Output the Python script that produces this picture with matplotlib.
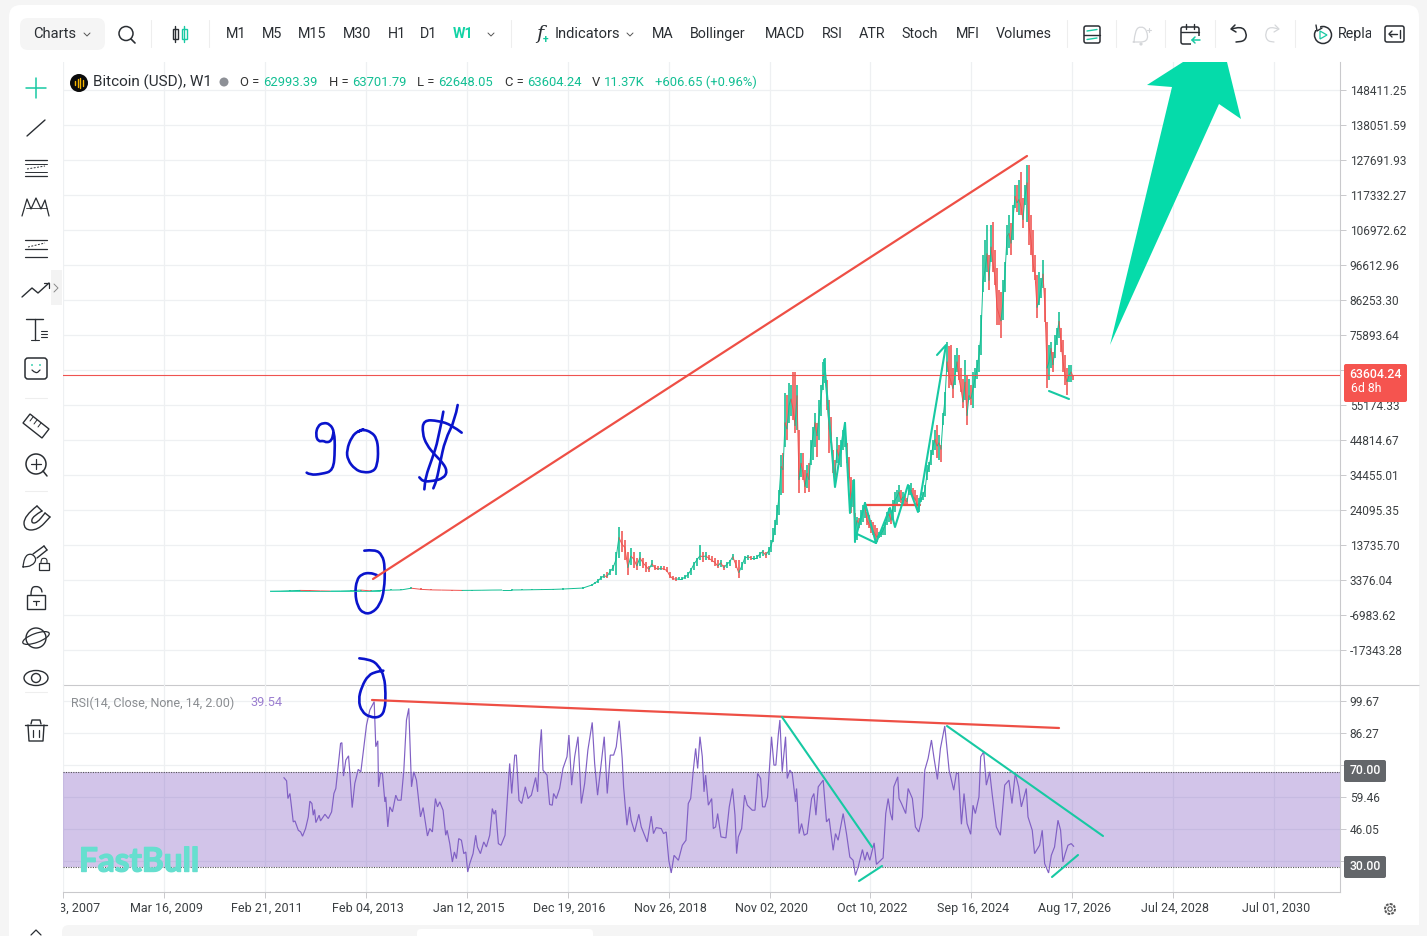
import numpy as np
import matplotlib
matplotlib.use("Agg")
import matplotlib.pyplot as plt
import matplotlib.patheffects as pe
from matplotlib.path import Path
from matplotlib.patches import PathPatch, Polygon, FancyBboxPatch, Rectangle, Circle, Ellipse
from matplotlib.collections import LineCollection
from matplotlib.transforms import ScaledTranslation

plt.rcParams['font.family'] = ['Roboto', 'DejaVu Sans']

# ---------- data (prices in thousands of USD) ----------
early_close = [0.06,0.1,0.2,0.3,0.25,0.15,0.1,0.12,0.2,0.4,0.15,0.3,0.4,0.45,0.95,0.6,0.45,0.4,0.35,0.3,0.32,0.35,0.4,0.42,0.42,0.45,0.5,0.55,0.6,0.7,0.85,1.0]
early_high  = [0.1,0.15,0.3,0.4,0.3,0.2,0.15,0.2,0.3,0.5,0.3,0.5,0.6,0.8,1.2,0.9,0.6,0.5,0.45,0.4,0.42,0.45,0.5,0.55,0.6,0.65,0.7,0.75,0.8,0.9,1.1,1.4]
early_low   = [0.03,0.05,0.1,0.2,0.15,0.1,0.08,0.1,0.15,0.2,0.1,0.2,0.3,0.35,0.7,0.5,0.35,0.3,0.25,0.22,0.25,0.28,0.3,0.32,0.35,0.35,0.4,0.45,0.45,0.55,0.7,0.8]

mid_close = [1.9,2.5,3.1,4.0,4.6,4.4,5.8,6.9,9.3,16,14,13,7,10.5,9.5,7.5,10,8.5,7.5,6.5,8.2,7,6.6,6.8,6.6,6.2,4.6,3.8,3.6,3.7,3.7,4.2,4.9,6.3,8,9.3,10.5,10.3,10.5,9.8,9.2,8.6,7.5,8.5,7,8,8.8,10.3,8,5.5,7.5,9.9,10.2,10,10,10,11,11.8,10.7,12]
mid_high  = [2.2,2.9,3.6,4.5,5.2,5.8,6.5,7.8,11.7,19,18,15.2,11.7,12.9,11.7,9.9,11.7,9.9,8.7,7.5,9.3,7.8,7.5,7.5,7.5,7.2,5.8,4.6,4.3,4.3,4.3,4.9,5.8,6.9,8.7,9.9,13.7,11.7,11.7,10.8,10.5,9.9,9.3,9.3,7.8,8.7,9.3,11,9.3,9.3,8.7,10.5,10.8,10.5,10.5,10.8,11.7,12.3,11.7,13]
mid_low   = [1.6,2.1,2.6,3.4,4.0,3.9,4.8,6.0,4.9,10,11.7,9.3,4.9,7.8,6.9,6.3,7.5,6.9,5.8,5.8,7.2,6.3,6.3,6.4,6.3,5.8,4.0,3.4,3.1,3.4,3.4,3.7,4.0,4.9,6.3,7.5,9.3,8.7,9.3,9.3,8.7,7.5,6.9,7.2,6.3,6.9,7.5,9.3,6.9,3.9,6.3,8.1,9.3,9.3,9.3,9.6,9.9,10.5,9.9,10.8]

late_close = [13.5,15.5,19,23,28,37,36,50,48,55,57,54,49,58,33,38,35,31,35,33,42,46,50,46,52,57,63,66,58,48,47,38,34,42,40,41,45,48,41,36,27,30,18,21,20,22,24,25,21,20,18.5,18,17,16,17,17,18,19.5,22,23,21,25,27,28,29.5,27,28,27,26.5,30,30,28,27.5,25.5,26,27,28.5,30,35,37,40,43,45,43,44,42,51,57,68,64,62,60,64,68,63,60,56,62,52,58,57,60,63,66,70,76,92,95,100,92,102,97,93,84,82,80,86,94,105,106,103,110,117,115,116,114,110,117,121,108,104,97,94,84,86,90,94,84,66,68,72,67,72,76,80,74,68,64,62,64,65,63.6]
late_high  = [15.2,18.8,21,25.6,30,40.4,41,58.7,58,61.7,61,65,65,61,47.8,41,41,35.9,37.4,38,44.8,48.7,52.8,49.8,56.7,61,67.9,69,62.6,56.7,51.6,41.9,38.9,45.7,43.3,44.8,47.8,50,43.9,39.8,33.9,33,23.2,22,21.7,24,25.6,26.5,23.5,22.6,21,20.5,19.7,18.8,17.6,18.2,19,20.5,23.5,24.7,24,27,29.4,30,31.5,30,29.4,28.6,27.6,31.5,32,30.6,30,28.6,27.6,28,29.4,31.5,37.4,38.3,41.9,44.8,47.8,49.3,46.3,43.3,52.8,59,73.8,72.5,73,66,70,72,70,66,63,68.5,64,63,61,65,66,68.5,73,81.8,99.6,104,108.5,99.6,108.5,109.3,101,95.7,89.2,88.6,92.2,97.5,108.5,111.4,109,114.4,120.3,120.3,121.8,124.2,116.5,120.3,126.2,126.2,111.4,107,99.6,93.7,94.6,92.8,98.1,89.8,79.7,73,73.8,70.9,75.9,78,82.7,77.9,74.4,70,66,67,67,63.7]
late_low   = [11.7,14.6,16.7,19.7,22.6,28.5,29,42.8,44.8,49.8,52,50.7,47,47.8,29,33.9,33,29,30.6,29.4,37.4,38.9,42.8,39.8,44.8,52,59.6,61.7,53.7,41,43.9,35,30.9,38,37.4,36.8,41.9,42.8,38,33.9,23.2,25,14.6,15.2,18.8,19.7,20.5,21.7,19.7,18.8,17.3,16.7,15.2,14.6,15.8,16,16.7,16.7,19.7,20.5,20,21,23.5,25.6,26.5,26.2,25.6,25.6,25.3,28.6,28.6,27.7,27,24,23.5,26.5,27,28,33,35.3,37.4,40.4,41.9,39.5,38.9,38.3,49.3,52,65,60.2,61,57.2,61,65,62.6,59,54.3,56.7,49.3,56.7,55.2,54.3,60.2,63,65,70,88.6,91.6,94.6,89.2,97.5,94.6,90.7,78.9,78.9,75,80.3,88.6,99.6,101.6,99.6,104,113.5,112.3,111.4,111.4,107.6,114.4,109.3,102.6,99.6,94.6,92.2,80.9,84.8,86.9,89.8,79.7,60.2,62.6,66.1,65,69,73,75,70.9,65,61,58,62,62,62.6]

last_price_line = 64000   # where the horizontal price line sits in the picture
last_price_text = '63604.24'

rsi_weeks = [18.8,21.4,22.7,24.7,26.4,28,29.7,33,35.3,37.2,40.2,42.9,44.5,46.5,47.8,49.1,50.4,53.7,55,59.4,62.7,66,68.3,70.2,72.6,74.9,76.2,77.8,80.1,82.8,84.1,86.4,89,92.4,95,98,100.6,103.9,108.2,109.8,111.8,112.5,114.5,116.4,118.8,119.7,121.7,123.7,126.3,129.6,131.6,134.9,137.6,140.2,142.5,145.2,147.5,150.1,154.1,156.7,161,163.3,165.9,168.9,170.9,173.2,176.5,179.1,180.5,183.1,185.7,187.7,189.7,192,194.7,197,199,200.9,202.9,206.2,208.8,210.5,213.5,216.8,219.4,222.7,225.3,227,228.6,231.3,233.9,237.9,240.5,242.5,244.5,247.5,249.1,251.7,254.4,258,260.7,264,268.2,270.2,272.2,273.9,275.5,279.5,282.1,284.7,286,288.7,292,295.3,299.3,301.2,303.9,306.9,310.2,313.5,316.8,320,324.3,326.7,329.6,332.3,336.2,339.2,342.2,345.5,348.1,351.1,354,355.4,358.7,361.3,362.9,366.3,370.5,372.9,378.8,382.8,385,387.7,392.7,395,397.6,400.2,402.6,405.4,409.7,413.6,417.2,419.5,421.9,424.5,426.8,428.8,431.1,433.4,435.1,436.7,439.4,442.7,444.3,446.6,448.6,451.9,456.8,460.1,463.4,465.8,467.4,469.1,472.4,475.3,478,482.9,485.6,488.2,491.2,493.1,495.5,498.1,499.7,502,504.4,506.3,508.7,510.3,512.6,515.9,517.6,520.2,522.5,525.8,526.8,529.4,531.8,534.4,537.4,541.7,544,546,548.3,553.2,556.5,559.1,563.1,565.4,568,573,576.3,579.6,582.9,585.2,587.9,592.1,594.5,596.8,599.4,603.7,606,612.6,615.2,617.6,619.9,621.8,623.2,627.1,628.4,630.8,635,637.4,641.6,644.6,647.9,651.5,653.9,657.2,660.5,663.1,666.4,669.4,673.7,678,682.6,685.2,687.2,690.2,692.8,695.8,699.4,701.7,704,707.6,709.3,712.3,714.9,718.2,720.8,724.8,728.8,733.1,737.3,740.3,743.6,746.9,749.6,754.5,756.2,760.4,762.7,767.7,770.3,772.7,776.6,779.3,782.5,785.9,788.5,790.8,793.1,795.8,799,801.4]
rsi_values = [67.5,66.2,58.8,60.9,54.6,49,49.4,45.5,44.8,43,46.2,51.1,57.7,56.7,51.8,54.2,48.7,51.8,49.4,52.2,50.4,53.2,60.9,63,72.8,81.9,82.2,68.2,74.9,76.7,69.3,55,65.1,71,70,80.5,89.6,95.9,99.4,80.5,83,63.7,69.6,69.3,57.4,59.5,46.9,55.3,53.2,60.2,58.1,58.1,70.7,91.7,96.6,63.7,70,66.5,51.1,55,43.1,46.2,44.8,58.8,55.3,57.4,53.9,43.4,45.5,39.9,32.2,36.4,33.6,42,41.3,35.7,36.4,28,31.5,35.7,43.4,38.5,35.7,40.6,38.5,43.4,54.6,52.2,53.9,39.9,39.2,43.4,60.9,73.5,60.9,77,77,58.1,56.7,63.7,58.8,60.2,67.6,61.6,79.1,87.8,70.7,68.6,56.3,56,60.9,58.8,63,71.4,76.3,85.4,64.4,76.3,84.7,56.7,65.1,79.1,90.7,73.5,60.2,70,84.7,60.9,77,77,80.5,91.4,75.6,63.7,47.6,55.3,49.7,44.8,52.2,46.9,40.6,51.4,44.1,46.6,46.2,44.1,44.8,32.9,27.6,35,32.9,39.2,41.3,56.7,58.8,70.7,79.8,71.4,84.7,76.3,61.6,68.6,56,58.8,46.2,46.9,52.5,42.7,42.3,55.3,63,51.8,35.7,42.7,46.2,60.2,56,53.9,53.9,69.3,67.2,55.3,55.3,59.5,70,84.7,72.8,72.8,85.4,91.7,70,84.7,67.2,70.7,69.3,57.4,63,44.1,48.3,43.4,44.1,58.8,60.9,51.8,63.7,66.5,49,50.4,37.1,44.1,41.3,52.5,44.1,34.3,32.9,26.6,30.1,37.4,32.9,36.4,32.9,40.2,31.2,33.9,52.5,58.8,52.5,49.7,63.7,67.9,58.8,56.7,52.5,63,58.8,46.9,44.8,51.1,70.7,75.6,83.3,75.6,66.8,79.8,89.2,70.7,62.3,69.3,69.3,48,60.9,48.3,43.8,56,52.5,59.5,76.3,78.4,64.4,70,60.2,46.9,43.4,64.4,66.5,56.7,69.3,63.7,55.3,63,51.1,45.5,35.7,39.2,45.5,31.5,27.6,35,38.5,49.7,45.5,32.2,35.7,39.2,39.9,38.8]
rsi_last = 39.54

price_ticks = [148411.25,138051.59,127691.93,117332.27,106972.62,96612.96,86253.30,75893.64,65533.98,55174.33,44814.67,34455.01,24095.35,13735.70,3376.04,-6983.62,-17343.28]
price_tick_labels = ['148411.25','138051.59','127691.93','117332.27','106972.62','96612.96','86253.30','75893.64','','55174.33','44814.67','34455.01','24095.35','13735.70','3376.04','-6983.62','-17343.28']
rsi_ticks = [99.67,86.27,72.86,59.46,46.05,32.65]
rsi_tick_labels = ['99.67','86.27','','59.46','46.05','']
date_weeks = [-200,-100,0,100,200,300,400,500,600,700,800,900,1000]
date_labels = ['','Mar 16, 2009','Feb 21, 2011','Feb 04, 2013','Jan 12, 2015','Dec 19, 2016','Nov 26, 2018','Nov 02, 2020','Oct 10, 2022','Sep 16, 2024','Aug 17, 2026','Jul 24, 2028','Jul 01, 2030']

toolbar_items = ['M1','M5','M15','M30','H1','D1','W1','MA','Bollinger','MACD','RSI','ATR','Stoch','MFI','Volumes']
ohlc_header = [('O =','#333'),('62993.39','g'),('H =','#333'),('63701.79','g'),('L =','#333'),('62648.05','g'),('C =','#333'),('63604.24','g'),('V','#333'),('11.37K','g'),('+606.65 (+0.96%)','g')]

# ---------- colours ----------
GREEN = '#12bf93'; RED = '#ef5350'; GRID = '#eef0f2'; TEAL = '#17c9a3'; LINE_RED = '#ee4f45'
INK = '#2a2e33'; BLUE = '#0a14cc'; PURPLE = '#8060c4'; AXIS = '#c9c9cc'; LABEL = '#3c4043'

W, H = 1427, 936
fig = plt.figure(figsize=(W/100, H/100), dpi=100, facecolor='#f5f5f5')

def box(x0, y0, x1, y1):
    return [x0/W, 1-y1/H, (x1-x0)/W, (y1-y0)/H]

# ---------- background ----------
bg = fig.add_axes([0,0,1,1], zorder=0); bg.set_xlim(0,W); bg.set_ylim(H,0); bg.axis('off')
bg.add_patch(FancyBboxPatch((9,5),1410,980,boxstyle='round,pad=0,rounding_size=12',fc='white',ec='none'))

# ---------- price axes ----------
px_per_unit = 35/10359.43
top_val = 148411.25 + 28/px_per_unit
bot_val = 148411.25 - 595/px_per_unit
ax_p = fig.add_axes(box(63,62,1340,685), zorder=1); ax_p.patch.set_alpha(0)
ax_r = fig.add_axes(box(63,685,1340,892), zorder=1); ax_r.patch.set_alpha(0)
wk = lambda x: (x-265)/1.009
for a in (ax_p, ax_r):
    a.set_xlim(wk(63), wk(1340))
    a.set_xticks(date_weeks)
    a.grid(True, color=GRID, lw=0.9); a.set_axisbelow(True)
    a.yaxis.tick_right()
    for s in ('left','top'):
        a.spines[s].set_visible(False)
    a.spines['right'].set_color(AXIS); a.spines['bottom'].set_color(AXIS)
    a.spines['right'].set_linewidth(0.8); a.spines['bottom'].set_linewidth(0.8)
ax_p.set_ylim(bot_val, top_val)
ax_p.set_yticks(price_ticks); ax_p.set_yticklabels(price_tick_labels)
ax_p.tick_params(axis='x', length=0, labelbottom=False)
ax_p.tick_params(axis='y', length=4, width=0.7, color=AXIS, labelsize=8.6, labelcolor=LABEL, pad=3)
ax_r.set_ylim(99.67-(892-701)/2.386, 99.67+(701-685)/2.386)
ax_r.set_yticks(rsi_ticks); ax_r.set_yticklabels(rsi_tick_labels)
ax_r.tick_params(axis='y', length=4, width=0.7, color=AXIS, labelsize=8.6, labelcolor=LABEL, pad=3)
ax_r.set_xticklabels(date_labels)
ax_r.tick_params(axis='x', length=4, width=0.7, color=AXIS, labelsize=9, labelcolor=LABEL, pad=3)
shift = ScaledTranslation(2/100, 0, fig.dpi_scale_trans)
for t in ax_r.get_xticklabels():
    t.set_transform(t.get_transform()+shift)

# ---------- candles ----------
closes = np.array(early_close+mid_close+late_close)*1000
highs = np.array(early_high+mid_high+late_high)*1000
lows = np.array(early_low+mid_low+late_low)*1000
weeks = np.concatenate([5+10*np.arange(len(early_close)), 324+2.97*np.arange(len(mid_close)), 501.5+1.982*np.arange(len(late_close))])
opens = np.r_[closes[0], closes[:-1]]
cols = [GREEN if c >= o else RED for o,c in zip(opens,closes)]
ax_p.add_collection(LineCollection([[(w,l),(w,h)] for w,l,h in zip(weeks,lows,highs)], colors=cols, linewidths=1.15, zorder=3))
ax_p.add_collection(LineCollection([[(weeks[i-1],opens[i]),(weeks[i],closes[i])] for i in range(1,len(weeks))], colors=cols[1:], linewidths=0.7, zorder=3))
ax_p.axhline(last_price_line, color=RED, lw=0.8, zorder=4)

# ---------- RSI ----------
ax_r.axhspan(30,70, facecolor=(126/255,87/255,194/255,0.35), edgecolor='none', zorder=2)
for lv in (30,70):
    ax_r.axhline(lv, color='#555', lw=0.8, ls=(0,(1,1.2)), zorder=3)
ax_r.plot(rsi_weeks, rsi_values, color=PURPLE, lw=0.85, zorder=4, solid_joinstyle='miter')

# ---------- overlay (drawings and application chrome) ----------
ov = fig.add_axes([0,0,1,1], zorder=3); ov.set_xlim(0,W); ov.set_ylim(H,0); ov.axis('off'); ov.patch.set_alpha(0)

def ln(pts, c=INK, lw=1.0, **k):
    a = np.array(pts, float)
    ov.plot(a[:,0], a[:,1], color=c, lw=lw, solid_capstyle=k.pop('cap','round'), solid_joinstyle='round', **k)
def txt(x,y,s,c=INK,fs=10,ha='center',**k):
    return ov.text(x,y,s,color=c,fontsize=fs,ha=ha,va='center',**k)
def smooth(pts, lw=1.9, c=BLUE):
    p = np.array(pts,float)
    verts=[p[0]]; codes=[Path.MOVETO]
    for i in range(1,len(p)-1):
        m=(p[i]+p[i+1])/2
        verts+= [p[i],m]; codes+=[Path.CURVE3,Path.CURVE3]
    verts.append(p[-1]); codes.append(Path.LINETO)
    ov.add_patch(PathPatch(Path(verts,codes),fc='none',ec=c,lw=lw,capstyle='round',joinstyle='round'))
def zoom11(pts):
    return [(295+x/3, 400+y/3) for x,y in pts]

# hand-drawn blue marks
smooth(zoom11([(35,218),(45,225),(80,222),(115,212),(120,150),(118,95),(105,72),(85,68),(68,78),(62,105),(70,125),(85,122),(95,128),(110,122),(115,100)]))
smooth(zoom11([(205,88),(190,92),(170,110),(155,150),(158,180),(180,208),(205,218),(235,215),(247,195),(250,150),(245,115),(230,97),(205,88),(190,95)]))
smooth(zoom11([(500,98),(470,75),(430,62),(385,60),(382,100),(395,135),(420,165),(445,190),(457,215),(445,235),(415,243),(385,245),(373,232)]))
smooth(zoom11([(445,35),(430,120),(410,180),(392,230),(388,268)]))
smooth(zoom11([(488,15),(480,60),(450,120),(435,190),(425,240),(415,265)]))
smooth(zoom11([(208,452),(240,448),(262,465),(270,500),(268,570),(255,615),(230,640),(205,640),(188,620),(180,580),(185,540),(200,522),(225,518),(245,525)]))
smooth(zoom11([(193,775),(225,778),(250,795),(268,830),(272,880),(270,930),(255,952),(225,952),(200,935),(190,900),(200,860),(220,825),(245,815),(265,812)]))

# trend lines
for seg in ([(373,579),(1027,156)], [(372,700),(1059,728)], [(866,505),(920,505)]):
    ln(seg, LINE_RED, 1.6)
for seg in ([(824,360),(835,487),(845,423),(850,513),(854,480),(855,542)],
            [(855,540),(865,503),(876,543),(855,533)],
            [(876,543),(890,508),(895,527),(908,485),(918,512),(946,345),(937,355)],
            [(782,717),(872,847)], [(859,881),(882,866)], [(947,726),(1103,836)], [(1052,877),(1078,855)],
            [(1049,391),(1069,399)]):
    ln(seg, TEAL, 1.5)
ln([(270,591),(380,591)], TEAL, 0.6)

# big arrow
ov.add_patch(Polygon([(1110,345),(1172,87),(1147,85),(1183,62),(1227,62),(1241,119),(1219,104)], closed=True, fc='#05dbaa', ec='none'))

# separator between panes, right of the plot
ln([(1340,685),(1419,685)], AXIS, 0.8, cap='butt')

# price tags
ov.add_patch(FancyBboxPatch((1344,364),63,38,boxstyle='round,pad=0,rounding_size=2',fc='#f5544f',ec='none'))
txt(1375.5,375,last_price_text,'white',8.8,fontweight='medium'); txt(1366,389,'6d 8h','white',8.8)
for y,s in ((771,'70.00'),(867,'30.00')):
    ov.add_patch(FancyBboxPatch((1344,y-11),42,22,boxstyle='round,pad=0,rounding_size=2',fc='#63666a',ec='none'))
    txt(1365,y,s,'white',8.8,fontweight='medium')
# clipped first date label
t = txt(52,908,'03, 2007',LABEL,9,ha='left')
t.set_clip_on(True); t.set_clip_path(Rectangle((61,898),60,20,transform=ov.transData))

# indicator legends
txt(71,703,'RSI(14, Close, None, 14, 2.00)','#8a8d91',9,ha='left')
txt(250,703,f'{rsi_last:.2f}','#9b7fd0',9.2,ha='left')
logo = txt(79,862,'FastBull','#66dfcf',24,ha='left',fontweight='bold',family='Lato')
logo.set_path_effects([pe.withStroke(linewidth=1.0, foreground='#66dfcf')])

# header
ov.add_patch(Circle((79,83),9,fc='#0b0b0b',ec='none'))
for dx,h in ((-4,2),(-1.5,4),(1,5),(3.5,3)):
    ln([(79+dx,83-h),(79+dx,83+h)],'#f5b400',1.0)
txt(93,82,'Bitcoin (USD), W1',INK,11,ha='left')
ov.add_patch(Circle((224,82),4.5,fc='#8d9096',ec='none'))
for (s,c),x in zip(ohlc_header,[240,263,329,352,417,438,505,527,592,604,655]):
    txt(x,82,s,GREEN if c=='g' else c,9.4,ha='left')

# top toolbar
ov.add_patch(FancyBboxPatch((20,18),85,32,boxstyle='round,pad=0,rounding_size=8',fc='#f5f5f5',ec='none'))
txt(55,34,'Charts',INK,10.6)
def chev(x,y,c='#555'):
    ln([(x-3,y-1.5),(x,y+1.5),(x+3,y-1.5)],c,0.7)
for x in (87,491,630): chev(x,34.5)
ov.add_patch(Circle((126,33.5),7,fc='none',ec=INK,lw=1.1)); ln([(131,39),(135,43)],INK,1.2)
for x in (151,209,511,1067,1116,1165,1215,1295):
    ln([(x,20),(x,47)],'#eeeeee',0.8)
for x,col in ((175,INK),(184,TEAL)):
    ov.add_patch(Rectangle((x-2.5,29),5,10,fc='none',ec=col,lw=1.0)); ln([(x,26),(x,42)],col,1.0)
for s,x in zip(toolbar_items,[236,272,312,357,397,429,463,663,718,785,832,872,920,968,1024]):
    if s=='W1':
        txt(x,34,s,'#12d3a5',10.3,fontweight='bold')
    else:
        txt(x,34,s,INK,10.3)
txt(540,34,'f',INK,14,fontstyle='italic',family='DejaVu Serif'); txt(546,40,'+','#12c79c',7.5,fontweight='bold')
txt(587,34,'Indicators',INK,10.6)
# layout icon, bell, calendar, undo/redo, replay, exit
ov.add_patch(FancyBboxPatch((1084,26),16,17,boxstyle='round,pad=0,rounding_size=2',fc='none',ec=INK,lw=1.1))
ln([(1084,34.5),(1100,34.5)],INK,1.0); ln([(1087,31),(1097,29.5)],TEAL,1.0); ln([(1087,39.5),(1097,38)],TEAL,1.0)
smooth([(1134,42),(1135,30),(1141,26),(1147,30),(1148,42),(1133,42)],0.9,'#d5d7da'); ov.add_patch(Circle((1141,44),1.6,fc='#d5d7da',ec='none'))
ln([(1147,30),(1151,30)],'#d5d7da',0.8); ln([(1149,28),(1149,32)],'#d5d7da',0.8)
ov.add_patch(FancyBboxPatch((1181,27),18,17,boxstyle='round,pad=0,rounding_size=2',fc='none',ec=INK,lw=1.1))
ln([(1181,32),(1199,32)],INK,1.0); ln([(1186,24),(1186,29)],INK,1.0); ln([(1194,24),(1194,29)],INK,1.0)
ov.add_patch(Rectangle((1191,36),11,9,fc='white',ec='none')); ln([(1200,40),(1192,40),(1195,37)],TEAL,1.1); ln([(1192,40),(1195,43)],TEAL,1.1)
smooth([(1232,29),(1241,26),(1247,33),(1245,41),(1236,42)],1.1,INK); ln([(1235,25),(1231,29),(1236,32)],INK,1.1)
smooth([(1278,29),(1270,26),(1265,33),(1267,41),(1274,42)],0.9,'#d5d7da'); ln([(1275,25),(1279,29),(1274,32)],'#d5d7da',0.9)
ov.add_patch(Circle((1323,35),8.5,fc='none',ec=INK,lw=1.1)); ov.add_patch(Polygon([(1320,31),(1327,35),(1320,39)],fc='none',ec=TEAL,lw=0.9))
ov.add_patch(Rectangle((1314,24),6,6,fc='white',ec='none')); ln([(1316,25),(1317,31),(1322,28)],INK,1.0)
t = txt(1338,34,'Replay',INK,10.3,ha='left')
t.set_clip_on(True); t.set_clip_path(Rectangle((1330,20),41,28,transform=ov.transData))
ov.add_patch(FancyBboxPatch((1385,26),19,16,boxstyle='round,pad=0,rounding_size=2',fc='white',ec=INK,lw=1.1))
ln([(1397,34),(1389,34)],INK,1.0); ln([(1392,31),(1389,34),(1392,37)],INK,1.0); ln([(1400,30),(1400,38)],INK,1.0)

# left toolbar
ln([(26,88),(46,88)],TEAL,1.1); ln([(36,78),(36,98)],TEAL,1.1)
ln([(27,136),(45,120)],INK,1.0)
for y in (160,176): ln([(25,y),(47,y)],INK,0.9)
for y in (164,172): ln([(25,y),(47,y)],INK,0.7)
ln([(27,169),(45,166)],INK,0.7,ls=(0,(2,1.5)))
ln([(22,216),(27,199),(31,209),(36,198),(41,209),(45,200),(49,216)],INK,0.9); ln([(26,208),(47,208)],INK,0.6)
for y in (240,257): ln([(25,y),(47,y)],INK,0.9)
ln([(25,249),(47,249)],INK,0.9) ; ln([(28,247),(45,243)],INK,0.7,ls=(0,(2,1.5)))
ln([(22,297),(32,288),(38,293),(49,283)],INK,1.0); ln([(44,283),(49,283),(49,288)],INK,0.9)
ov.add_patch(Rectangle((51,270),11,35,fc='#f3f3f3',ec='none')); ln([(54,284),(58,288),(54,292)],'#888',0.7)
ln([(26,319),(43,319)],INK,1.0); ln([(35,319),(35,340)],INK,1.0); ln([(31,340),(39,340)],INK,0.8)
for y in (331,334,337): ln([(41,y),(47,y)],INK,0.8)
ov.add_patch(FancyBboxPatch((25,358),22,21,boxstyle='round,pad=0,rounding_size=3',fc='none',ec=INK,lw=1.1))
ov.add_patch(Circle((32,365),0.9,fc=TEAL,ec='none')); ov.add_patch(Circle((40,365),0.9,fc=TEAL,ec='none'))
smooth([(32,370),(36,374),(40,370)],0.9,INK)
for y in (398,491,692): ln([(25,y),(47,y)],'#eeeeee',0.8)
ov.add_patch(Polygon([(23,423),(30,414),(49,429),(42,438)],closed=True,fc='none',ec=INK,lw=1.0))
for (a,b) in (((33,417),(30,421)),((37,420),(34,424)),((41,423),(38,427))): ln([a,b],INK,0.7)
ov.add_patch(Circle((36,464),10,fc='none',ec=INK,lw=1.1)); ln([(43,471),(47,476)],INK,1.1); ln([(31,464),(41,464)],INK,0.9); ln([(36,459),(36,469)],INK,0.9)
# magnet
smooth([(37,506),(24,516),(24,530),(38,530),(50,517)],1.0,INK)
smooth([(42,511),(33,516),(31,523),(37,523),(45,513)],1.0,INK)
ln([(37,506),(42,511)],INK,1.0); ln([(50,517),(45,513)],INK,1.0)
# brush with lock
smooth([(23,567),(24,557),(31,553),(37,559),(32,566),(23,567)],0.9,INK)
ln([(33,554),(44,546)],INK,1.0); ln([(37,558),(47,550)],INK,1.0); ln([(44,546),(47,550)],INK,1.0)
ov.add_patch(Rectangle((39,563),10,7,fc='white',ec=INK,lw=0.9)); smooth([(41,563),(41,559),(44,558),(47,559),(47,563)],0.8,INK)
ov.add_patch(Rectangle((27,595),18,14,fc='none',ec=INK,lw=1.0)); smooth([(31,595),(31,588),(36,586),(41,588),(42,592)],1.0,INK); ln([(33,601),(39,601)],INK,0.9); ln([(36,601),(36,605)],INK,0.9)
ov.add_patch(Circle((36,638),10,fc='none',ec=INK,lw=1.0)); ov.add_patch(Ellipse((36,638),28,9,angle=-20,fc='none',ec=INK,lw=0.9))
ov.add_patch(Ellipse((36,678),24,15,fc='none',ec=INK,lw=1.0)); ov.add_patch(Circle((36,678),4.5,fc='none',ec=INK,lw=1.0))
ln([(25,725),(47,725)],INK,1.0); ln([(31,724),(32,720),(40,720),(41,724)],INK,1.0)
ln([(28,725),(29,741),(43,741),(44,725)],INK,1.0); ln([(33,730),(33,737)],INK,0.9); ln([(39,730),(39,737)],INK,0.9)

# gear and bottom strip
ov.add_patch(Circle((1390,909),5,fc='none',ec='#555',lw=1.4,ls=(0,(1.4,0.6)))); ov.add_patch(Circle((1390,909),2.2,fc='none',ec='#555',lw=0.8))
ln([(31,935),(36,930),(41,935)],INK,0.9)
ov.add_patch(FancyBboxPatch((62,925),1400,40,boxstyle='round,pad=0,rounding_size=7',fc='#f5f5f5',ec='none'))
ov.add_patch(FancyBboxPatch((417,929),176,20,boxstyle='round,pad=0,rounding_size=4',fc='white',ec='none'))
ov.add_patch(Rectangle((1419,0),8,H,fc='#f5f5f5',ec='none'))

fig.savefig('out.png', dpi=100, facecolor=fig.get_facecolor())
